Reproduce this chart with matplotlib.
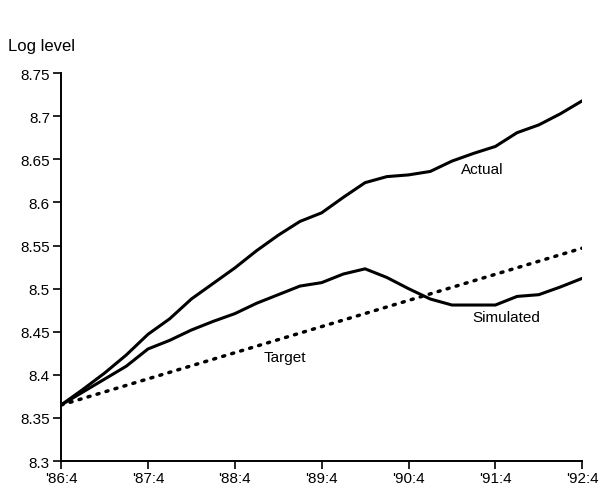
import matplotlib

matplotlib.use("Agg")
import matplotlib.pyplot as plt

plt.rcParams["font.family"] = ["Liberation Sans", "DejaVu Sans"]

# quarterly observations, '86:4 .. '92:4
quarters = list(range(25))
tick_labels = ["'86:4", "'87:4", "'88:4", "'89:4", "'90:4", "'91:4", "'92:4"]

actual = [8.365, 8.383, 8.402, 8.423, 8.447, 8.465, 8.488, 8.506, 8.524,
          8.544, 8.562, 8.578, 8.588, 8.606, 8.623, 8.630, 8.632, 8.636,
          8.648, 8.657, 8.665, 8.681, 8.690, 8.703, 8.718]
simulated = [8.365, 8.380, 8.395, 8.410, 8.430, 8.440, 8.452, 8.462, 8.471,
             8.483, 8.493, 8.503, 8.507, 8.517, 8.523, 8.513, 8.500, 8.488,
             8.481, 8.481, 8.481, 8.491, 8.493, 8.502, 8.512]
target_x = [0, 24]
target = [8.365, 8.547]

fig = plt.figure(figsize=(5.99, 4.85), dpi=100)
ax = fig.add_axes([0.102, 0.0474, 0.870, 0.7996])

ax.plot(quarters, actual, color="black", lw=2.2, solid_capstyle="round")
ax.plot(quarters, simulated, color="black", lw=2.2, solid_capstyle="round")
ax.plot(target_x, target, color="black", lw=2.5, linestyle=(0, (0.6, 2.1)),
        dash_capstyle="round")

ax.set_xlim(0, 24)
ax.set_ylim(8.3, 8.75)
ax.set_xticks(range(0, 25, 4))
ax.set_xticklabels(tick_labels)
ax.set_yticks([8.3, 8.35, 8.4, 8.45, 8.5, 8.55, 8.6, 8.65, 8.7, 8.75])
ax.set_yticklabels(["8.3", "8.35", "8.4", "8.45", "8.5", "8.55", "8.6",
                    "8.65", "8.7", "8.75"])
ax.tick_params(axis="both", labelsize=11, length=6, width=1.2, direction="out", pad=2)
ax.tick_params(axis="x", pad=1.5)
for side in ("top", "right"):
    ax.spines[side].set_visible(False)
for side in ("left", "bottom"):
    ax.spines[side].set_linewidth(1.4)

ax.text(19.4, 8.639, "Actual", fontsize=11, ha="center", va="center")
ax.text(20.5, 8.467, "Simulated", fontsize=11, ha="center", va="center")
ax.text(10.3, 8.421, "Target", fontsize=11, ha="center", va="center")

fig.text(8 / 599, 1 - 47 / 485, "Log level", fontsize=12, ha="left", va="center")

fig.savefig("out.png", dpi=100)
